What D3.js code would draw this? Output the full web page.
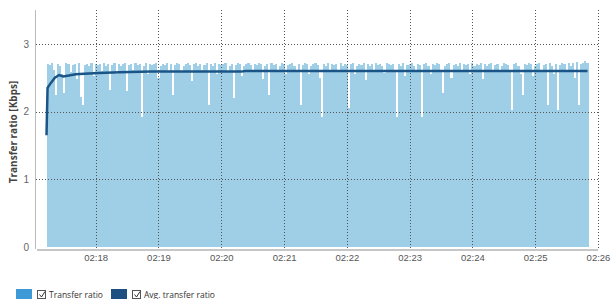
<!DOCTYPE html>
<html>
<head>
<meta charset="utf-8">
<script src="https://cdn.jsdelivr.net/npm/d3@7"></script>
<style>
  body { margin: 0; background: #fff; }
  svg { display: block; font-family: "Open Sans", "Noto Sans", sans-serif; }
</style>
</head>
<body>
<div id="chart"></div>
<script>
// transfer ratio samples, one every 2 s starting 02:17:13 (Kbps)
var ratioValues = [
  2.70,2.69,2.71,2.62,2.25,2.70,2.68,2.55,2.28,2.71,2.70,2.58,2.69,2.70,2.48,2.71,2.22,2.10,2.69,2.70,
  2.68,2.71,2.52,2.70,2.69,2.70,2.60,2.71,2.68,2.70,2.32,2.69,2.71,2.56,2.70,2.68,2.70,2.71,2.30,2.69,
  2.70,2.62,2.71,2.69,2.70,1.92,2.68,2.71,2.55,2.70,2.69,2.70,2.71,2.50,2.68,2.70,2.69,2.71,2.60,2.70,
  2.25,2.69,2.71,2.70,2.58,2.68,2.70,2.71,2.69,2.45,2.70,2.71,2.68,2.70,2.62,2.69,2.71,2.10,2.70,2.68,
  2.71,2.55,2.70,2.69,2.70,2.71,2.60,2.68,2.70,2.20,2.69,2.71,2.70,2.52,2.68,2.70,2.71,2.69,2.58,2.70,
  2.69,2.71,2.70,2.48,2.68,2.70,2.25,2.71,2.69,2.70,2.62,2.68,2.71,2.70,2.55,2.69,2.70,2.71,2.68,2.60,
  2.70,2.10,2.69,2.71,2.70,2.56,2.68,2.70,2.71,2.69,2.50,1.92,2.70,2.68,2.71,2.62,2.70,2.69,2.70,2.58,
  2.71,2.68,2.70,2.69,2.05,2.70,2.71,2.55,2.68,2.70,2.69,2.71,2.46,2.70,2.68,2.70,2.60,2.71,2.69,2.70,
  2.68,2.57,2.71,2.70,2.69,2.70,2.62,1.92,2.70,2.68,2.71,2.52,2.69,2.70,2.71,2.68,2.58,2.70,2.69,1.92,
  2.70,2.71,2.68,2.55,2.70,2.69,2.71,2.70,2.62,2.28,2.68,2.70,2.71,2.50,2.69,2.70,2.68,2.71,2.60,2.70,
  2.69,2.70,2.56,2.71,2.68,2.70,2.69,2.71,2.48,2.70,2.68,2.70,2.71,2.62,2.69,2.70,2.58,2.68,2.71,2.70,
  2.69,2.60,2.02,2.70,2.71,2.68,2.55,2.25,2.70,2.69,2.71,2.70,2.52,2.68,2.70,2.71,2.62,2.69,2.70,2.10,
  2.71,2.68,2.56,2.70,2.02,2.69,2.71,2.70,2.60,2.72,2.68,2.71,2.50,2.73,2.10,2.70,2.72,2.74,2.71
];

// average transfer ratio: seconds since start / value
var avgSeconds = [0, 1, 4, 8, 12, 16, 20, 28, 36, 50, 70, 100, 140, 186, 190, 517];
var avgValues  = [1.65, 2.35, 2.42, 2.50, 2.54, 2.52, 2.53, 2.55, 2.56, 2.57, 2.58, 2.59, 2.59, 2.59, 2.60, 2.60];

var yTicks = [0, 1, 2, 3];
var legendLabels = ["Transfer ratio", "Avg. transfer ratio"];
var legendColors = ["#3d9ad6", "#1d4f80"];

var startTime = new Date(2020, 0, 1, 2, 17, 13);
var stepMs = 2000;

var width = 613, height = 299;

var svg = d3.select("#chart")
    .append("svg")
    .attr("width", width)
    .attr("height", height);

// scales
var x = d3.scaleTime()
    .domain([new Date(2020, 0, 1, 2, 17, 2), new Date(2020, 0, 1, 2, 26, 0)])
    .range([35, 598]);
var y = d3.scaleLinear()
    .domain([0, 3.5])
    .range([247, 10]);

var samples = ratioValues.map(function (v, i) {
    return { t: new Date(+startTime + i * stepMs), v: v };
});
var avg = avgSeconds.map(function (s, i) {
    return { t: new Date(+startTime + s * 1000), v: avgValues[i] };
});

// bars
svg.append("g")
    .selectAll("rect")
    .data(samples)
    .enter()
    .append("rect")
    .attr("x", function (d) { return x(d.t); })
    .attr("width", function (d) { return x(new Date(+d.t + stepMs)) - x(d.t); })
    .attr("y", function (d) { return y(d.v); })
    .attr("height", function (d) { return y(0) - y(d.v); })
    .attr("fill", "#9fcfe7")
    .attr("shape-rendering", "crispEdges");

// grid
var xTicks = d3.timeMinute.range(new Date(2020, 0, 1, 2, 18), new Date(2020, 0, 1, 2, 26, 30));
svg.append("g")
    .selectAll("line")
    .data(xTicks)
    .enter()
    .append("line")
    .attr("x1", function (d) { return Math.round(x(d)) + 0.5; })
    .attr("x2", function (d) { return Math.round(x(d)) + 0.5; })
    .attr("y1", y(3.5))
    .attr("y2", 250)
    .attr("stroke", "#555")
    .attr("stroke-dasharray", "1,2");
svg.append("g")
    .selectAll("line")
    .data(yTicks.slice(1))
    .enter()
    .append("line")
    .attr("x1", 36)
    .attr("x2", 598)
    .attr("y1", function (d) { return Math.round(y(d)) + 0.5; })
    .attr("y2", function (d) { return Math.round(y(d)) + 0.5; })
    .attr("stroke", "#555")
    .attr("stroke-dasharray", "1,2");

// average line
svg.append("path")
    .datum(avg)
    .attr("fill", "none")
    .attr("stroke", "#1b5587")
    .attr("stroke-width", 2.5)
    .attr("d", d3.line()
        .x(function (d) { return x(d.t); })
        .y(function (d) { return y(d.v); }));

// y axis
var yAxis = svg.append("g")
    .attr("transform", "translate(35,0)")
    .call(d3.axisLeft(y).tickValues(yTicks).tickSize(0).tickPadding(6).tickFormat(d3.format("d")));
yAxis.select(".domain").attr("stroke", "#bbb").attr("d", "M0.5,10V249");
yAxis.selectAll("text").attr("fill", "#666").style("font-size", "10px");

// x axis
var xAxis = svg.append("g")
    .attr("transform", "translate(0,250)")
    .call(d3.axisBottom(x).tickValues(xTicks).tickSize(0).tickPadding(4).tickFormat(d3.timeFormat("%H:%M")));
xAxis.select(".domain").attr("stroke", "#c6c6c6").attr("stroke-width", 2).attr("d", "M37,0H598");
xAxis.selectAll("text").attr("fill", "#555").style("font-size", "9.5px");

// y label
svg.append("text")
    .attr("transform", "translate(17,132) rotate(-90)")
    .attr("text-anchor", "middle")
    .attr("fill", "#444")
    .style("font-size", "10px")
    .style("font-weight", "bold")
    .text("Transfer ratio [Kbps]");

// legend
var legendX = [16, 111];
var leg = svg.append("g")
    .selectAll("g")
    .data(legendLabels)
    .enter()
    .append("g")
    .attr("transform", function (d, i) { return "translate(" + legendX[i] + ",289)"; });
leg.append("rect")
    .attr("width", 16)
    .attr("height", 10)
    .attr("fill", function (d, i) { return legendColors[i]; });
leg.append("rect")
    .attr("x", 21.5)
    .attr("y", 1.5)
    .attr("width", 8)
    .attr("height", 8)
    .attr("fill", "#fff")
    .attr("stroke", "#555");
leg.append("path")
    .attr("d", "M23.5,5.5L25.5,8L29,2.5")
    .attr("fill", "none")
    .attr("stroke", "#333");
leg.append("text")
    .attr("x", 33)
    .attr("y", 9)
    .attr("fill", "#333")
    .style("font-size", "8.5px")
    .text(function (d) { return d; });
</script>
</body>
</html>
